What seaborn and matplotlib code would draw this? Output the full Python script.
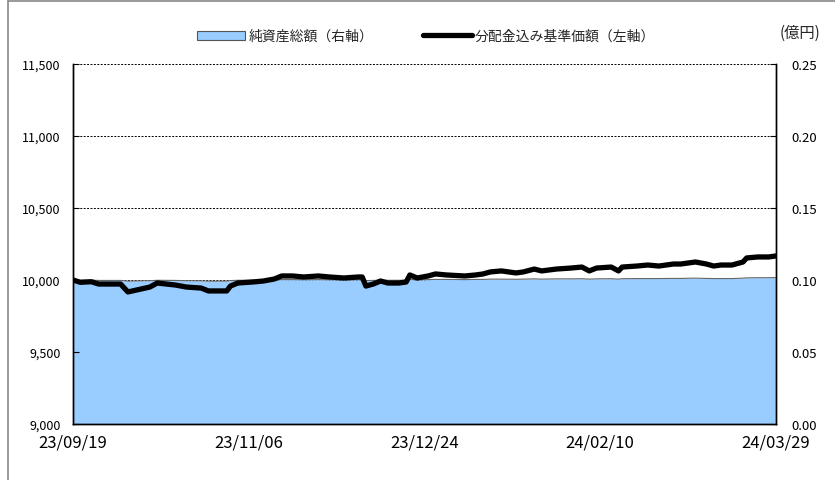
import pandas as pd
import numpy as np
import matplotlib
matplotlib.use("Agg")
import matplotlib.pyplot as plt
import matplotlib.dates as mdates
from matplotlib.patches import Patch
from matplotlib.lines import Line2D
import seaborn as sns

# data
dates = [
    "2023-09-19", "2023-09-21", "2023-09-24", "2023-09-26", "2023-09-29", "2023-10-02",
    "2023-10-04", "2023-10-10", "2023-10-12", "2023-10-17", "2023-10-20", "2023-10-24",
    "2023-10-26", "2023-10-29", "2023-10-31", "2023-11-01", "2023-11-03", "2023-11-07",
    "2023-11-10", "2023-11-13", "2023-11-15", "2023-11-18", "2023-11-21", "2023-11-25",
    "2023-11-28", "2023-12-02", "2023-12-06", "2023-12-07", "2023-12-08", "2023-12-10",
    "2023-12-12", "2023-12-14", "2023-12-17", "2023-12-19", "2023-12-20", "2023-12-22",
    "2023-12-25", "2023-12-27", "2023-12-30", "2024-01-04", "2024-01-07", "2024-01-09",
    "2024-01-11", "2024-01-14", "2024-01-18", "2024-01-20", "2024-01-23", "2024-01-25",
    "2024-01-29", "2024-02-02", "2024-02-05", "2024-02-07", "2024-02-09", "2024-02-13",
    "2024-02-15", "2024-02-16", "2024-02-20", "2024-02-23", "2024-02-26", "2024-03-01",
    "2024-03-03", "2024-03-07", "2024-03-10", "2024-03-12", "2024-03-14", "2024-03-17",
    "2024-03-20", "2024-03-21", "2024-03-24", "2024-03-27", "2024-03-29",
]
nav = [
    10000, 9984, 9988, 9972, 9972, 9972,
    9917, 9951, 9979, 9965, 9951, 9944,
    9924, 9924, 9924, 9958, 9979, 9986,
    9993, 10007, 10028, 10028, 10021, 10028,
    10021, 10014, 10021, 10021, 9958, 9972,
    9993, 9979, 9979, 9986, 10035, 10014,
    10028, 10042, 10035, 10028, 10035, 10042,
    10056, 10063, 10049, 10056, 10076, 10063,
    10076, 10083, 10090, 10063, 10083, 10090,
    10063, 10090, 10097, 10104, 10097, 10111,
    10111, 10125, 10111, 10097, 10104, 10104,
    10125, 10153, 10160, 10160, 10167,
]
net_assets = [
    0.1000, 0.0998, 0.0999, 0.0997, 0.0997, 0.0997,
    0.0992, 0.0995, 0.0998, 0.0997, 0.0995, 0.0994,
    0.0992, 0.0992, 0.0992, 0.0996, 0.0998, 0.0999,
    0.0999, 0.1001, 0.1003, 0.1003, 0.1002, 0.1003,
    0.1002, 0.1001, 0.1002, 0.1002, 0.0996, 0.0997,
    0.0999, 0.0998, 0.0998, 0.0999, 0.1004, 0.1001,
    0.1003, 0.1004, 0.1004, 0.1003, 0.1004, 0.1004,
    0.1006, 0.1006, 0.1005, 0.1006, 0.1008, 0.1006,
    0.1008, 0.1008, 0.1009, 0.1006, 0.1008, 0.1009,
    0.1006, 0.1009, 0.1010, 0.1010, 0.1010, 0.1011,
    0.1011, 0.1013, 0.1011, 0.1010, 0.1010, 0.1010,
    0.1013, 0.1015, 0.1016, 0.1016, 0.1017,
]
xtick_dates = ["2023-09-19", "2023-11-06", "2023-12-24", "2024-02-10", "2024-03-29"]
left_ticks = [9000, 9500, 10000, 10500, 11000, 11500]
right_ticks = [0.00, 0.05, 0.10, 0.15, 0.20, 0.25]

df = pd.DataFrame({"date": pd.to_datetime(dates), "nav": nav, "net": net_assets})

sns.set_style("white")
plt.rcParams["font.family"] = ["Noto Sans CJK JP", "DejaVu Sans"]

fig = plt.figure(figsize=(8.35, 4.81), dpi=100)
ax = fig.add_axes([0.0874, 0.1164, 0.8419, 0.7485])
ax2 = ax.twinx()

# net assets area (right axis)
ax2.fill_between(df["date"], 0, df["net"], color="#99CCFF", zorder=2, linewidth=0)
sns.lineplot(data=df, x="date", y="net", ax=ax2, color="#666666", linewidth=0.8, zorder=3)
ax2.set_ylim(0, 0.25)
ax2.set_yticks(right_ticks)
ax2.set_yticklabels([f"{v:.2f}" for v in right_ticks], fontsize=9.5)
ax2.grid(axis="y", color="black", linestyle=(0, (2, 1.5)), linewidth=0.7, zorder=1)
ax2.set_axisbelow(True)
ax2.set_ylabel("")

# NAV line (left axis) on top
ax.set_zorder(ax2.get_zorder() + 1)
ax.patch.set_visible(False)
sns.lineplot(data=df, x="date", y="nav", ax=ax, color="black", linewidth=3.8)
ax.set_ylim(9000, 11500)
ax.set_yticks(left_ticks)
ax.set_yticklabels([f"{v:,}" for v in left_ticks], fontsize=9)
ax.set_xlim(df["date"].iloc[0], df["date"].iloc[-1])
ax.set_xticks(pd.to_datetime(xtick_dates))
ax.xaxis.set_major_formatter(mdates.DateFormatter("%y/%m/%d"))
for lab in ax.get_xticklabels():
    lab.set_fontsize(12)
ax.set_xlabel("")
ax.set_ylabel("")

for a in (ax, ax2):
    a.spines["top"].set_visible(False)
    for s in ("left", "right", "bottom"):
        a.spines[s].set_color("black")
        a.spines[s].set_linewidth(1.0)
ax.tick_params(axis="y", direction="in", length=4, width=0.8, pad=9, colors="black")
ax.tick_params(axis="x", direction="in", length=4, width=0.8, pad=7, colors="black")
ax2.tick_params(axis="y", direction="in", length=4, width=0.8, pad=11, colors="black")

# legend and unit
handles = [
    Patch(facecolor="#99CCFF", edgecolor="#555555", linewidth=0.8),
    Line2D([0], [0], color="black", linewidth=3.8),
]
fig.legend(handles, ["純資産総額（右軸）", "分配金込み基準価額（左軸）"],
           loc="center", bbox_to_anchor=(0.51, 0.923), ncol=2, frameon=False,
           fontsize=10, handlelength=3.5, handleheight=0.6, columnspacing=3.6,
           handletextpad=0.2)
fig.text(0.958, 0.931, "(億円)", fontsize=11, ha="center", va="center")

# outer frame
fig.add_artist(Line2D([8 / 835, 8 / 835], [0, 1 - 1.5 / 481], transform=fig.transFigure,
                      color="#888888", linewidth=1.2))
fig.add_artist(Line2D([8 / 835, 1], [1 - 1.5 / 481, 1 - 1.5 / 481], transform=fig.transFigure,
                      color="#888888", linewidth=1.2))

fig.savefig("out.png", dpi=100)
